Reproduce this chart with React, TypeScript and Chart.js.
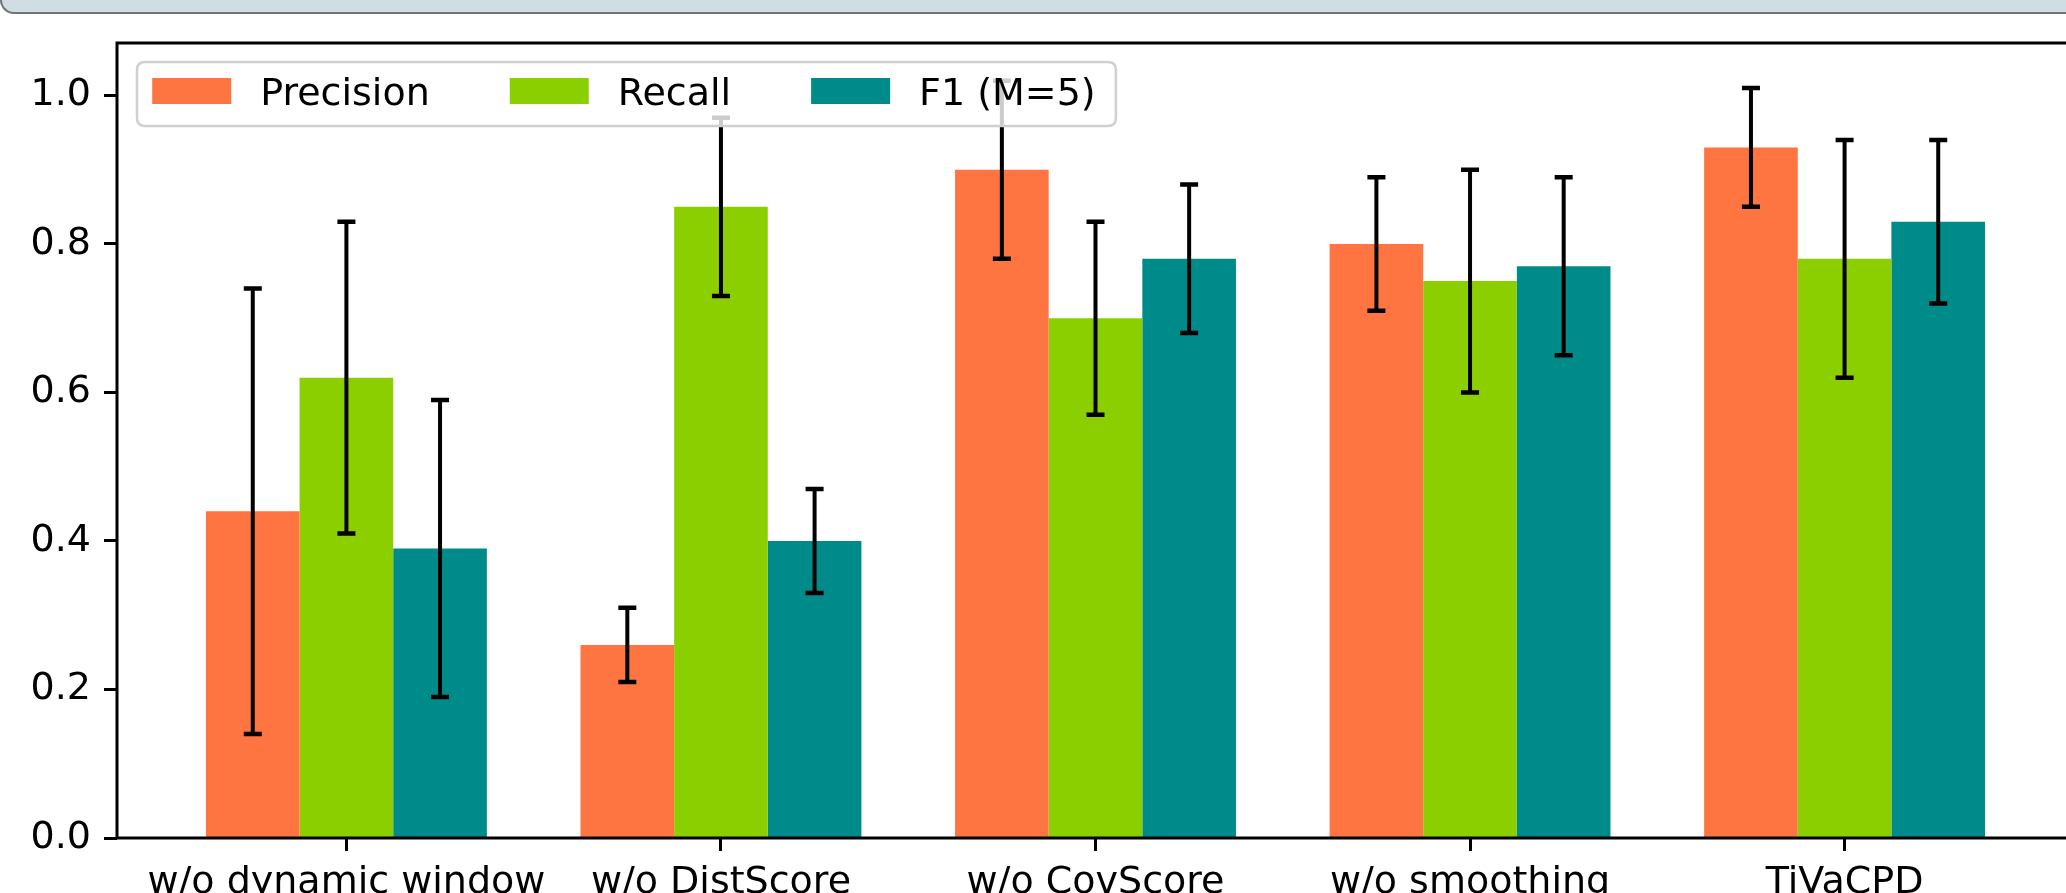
import React, { useEffect, useRef } from "react";
import { Chart, registerables } from "chart.js";

Chart.register(...registerables);

const categories = ["w/o dynamic window", "w/o DistScore", "w/o CovScore", "w/o smoothing", "TiVaCPD"];
const seriesLabels = ["Precision", "Recall", "F1 (M=5)"];
const precision = [0.44, 0.26, 0.9, 0.8, 0.93];
const precisionErr = [0.3, 0.05, 0.12, 0.09, 0.08];
const recall = [0.62, 0.85, 0.7, 0.75, 0.78];
const recallErr = [0.21, 0.12, 0.13, 0.15, 0.16];
const f1 = [0.39, 0.4, 0.78, 0.77, 0.83];
const f1Err = [0.2, 0.07, 0.1, 0.12, 0.11];
const yTicks = [0, 0.2, 0.4, 0.6, 0.8, 1.0];
const seriesColors = ["#ff7542", "#8ccf00", "#008b8b"];

const X_MIN = -0.6125;
const X_MAX = 4.6125;
const Y_MAX = 1.0707;

const FONT = "'DejaVu Sans', sans-serif";
const FS = 38;

const errorBarsAndFrame = {
  id: "errorBarsAndFrame",
  afterDatasetsDraw(chart: any) {
    const { ctx, chartArea: a } = chart;
    const ys = chart.scales.y;
    ctx.save();
    ctx.strokeStyle = "#000";
    chart.data.datasets.forEach((ds: any, d: number) => {
      const meta = chart.getDatasetMeta(d);
      meta.data.forEach((el: any, i: number) => {
        const v = ds.data[i].y;
        const e = ds.errors[i];
        const top = ys.getPixelForValue(v + e);
        const bot = ys.getPixelForValue(v - e);
        ctx.lineWidth = 4;
        ctx.lineCap = "butt";
        ctx.beginPath();
        ctx.moveTo(el.x, top);
        ctx.lineTo(el.x, bot);
        ctx.stroke();
        ctx.lineWidth = 4.5;
        ctx.beginPath();
        ctx.moveTo(el.x - 9, top);
        ctx.lineTo(el.x + 9, top);
        ctx.moveTo(el.x - 9, bot);
        ctx.lineTo(el.x + 9, bot);
        ctx.stroke();
      });
    });
    ctx.lineWidth = 3;
    ctx.lineCap = "square";
    ctx.beginPath();
    ctx.moveTo(a.left, a.bottom);
    ctx.lineTo(a.left, a.top);
    ctx.lineTo(a.right, a.top);
    ctx.moveTo(a.left, a.bottom);
    ctx.lineTo(a.right, a.bottom);
    ctx.stroke();
    ctx.restore();
  },
};

const innerLegend = {
  id: "innerLegend",
  afterDraw(chart: any) {
    const { ctx, chartArea: a } = chart;
    ctx.save();
    ctx.font = `${FS}px ${FONT}`;
    const pad = 0.4 * FS;
    const handleW = 79;
    const handleH = 26;
    const textPad = 29;
    const colSp = 80;
    const bx = a.left + 20;
    const by = a.top + 19;
    const items = chart.data.datasets.map((ds: any) => ({
      label: ds.label,
      color: ds.backgroundColor,
      w: ctx.measureText(ds.label).width,
    }));
    const w =
      pad * 2 +
      5 +
      items.reduce((s: number, it: any) => s + handleW + textPad + it.w, 0) +
      colSp * (items.length - 1);
    const h = 64;
    const r = 8;
    ctx.beginPath();
    ctx.moveTo(bx + r, by);
    ctx.lineTo(bx + w - r, by);
    ctx.quadraticCurveTo(bx + w, by, bx + w, by + r);
    ctx.lineTo(bx + w, by + h - r);
    ctx.quadraticCurveTo(bx + w, by + h, bx + w - r, by + h);
    ctx.lineTo(bx + r, by + h);
    ctx.quadraticCurveTo(bx, by + h, bx, by + h - r);
    ctx.lineTo(bx, by + r);
    ctx.quadraticCurveTo(bx, by, bx + r, by);
    ctx.closePath();
    ctx.fillStyle = "rgba(255,255,255,0.8)";
    ctx.fill();
    ctx.strokeStyle = "#d0d0d0";
    ctx.lineWidth = 2.5;
    ctx.stroke();
    let x = bx + pad;
    const cy = by + 29;
    items.forEach((it: any) => {
      ctx.fillStyle = it.color;
      ctx.fillRect(x, cy - handleH / 2, handleW, handleH);
      ctx.fillStyle = "#000";
      ctx.textBaseline = "alphabetic";
      ctx.textAlign = "left";
      ctx.fillText(it.label, x + handleW + textPad, cy + (0.729 * FS) / 2);
      x += handleW + textPad + it.w + colSp;
    });
    ctx.restore();
  },
};

export default function App() {
  const ref = useRef<HTMLCanvasElement | null>(null);

  useEffect(() => {
    if (!ref.current) return;
    const seriesValues = [precision, recall, f1];
    const seriesErrors = [precisionErr, recallErr, f1Err];
    const tickGrid = {
      display: true,
      offset: false,
      drawOnChartArea: false,
      drawTicks: true,
      tickLength: 13,
      tickWidth: 3,
      tickColor: "#000",
    };
    const chart = new Chart(ref.current, {
      type: "bar",
      data: {
        datasets: seriesLabels.map((label, s) => ({
          label,
          data: seriesValues[s].map((y, i) => ({ x: i, y })),
          errors: seriesErrors[s],
          backgroundColor: seriesColors[s],
          borderWidth: 0,
          barPercentage: 1,
          categoryPercentage: 0.75,
        })) as any,
      },
      options: {
        animation: false,
        responsive: false,
        devicePixelRatio: 1,
        layout: { padding: { top: 43, right: 26, left: 0, bottom: 0 } },
        plugins: { legend: { display: false }, tooltip: { enabled: false } },
        scales: {
          x: {
            type: "linear",
            min: X_MIN,
            max: X_MAX,
            bounds: "data",
            offset: false,
            afterBuildTicks: (s: any) => {
              s.ticks = categories.map((_, i) => ({ value: i }));
            },
            afterFit: (s: any) => {
              s.height = 55;
            },
            ticks: {
              callback: (v: any) => categories[Math.round(Number(v))] ?? "",
              font: { family: FONT, size: FS },
              color: "#000",
              padding: 9,
              maxRotation: 0,
              autoSkip: false,
            },
            grid: tickGrid,
            border: { display: false },
          },
          y: {
            min: 0,
            max: Y_MAX,
            bounds: "data",
            afterBuildTicks: (s: any) => {
              s.ticks = yTicks.map((v) => ({ value: v }));
            },
            afterFit: (s: any) => {
              s.width = 117;
            },
            ticks: {
              callback: (v: any) => Number(v).toFixed(1),
              font: { family: FONT, size: FS },
              color: "#000",
              padding: 13,
            },
            grid: tickGrid,
            border: { display: false },
          },
        },
      } as any,
      plugins: [errorBarsAndFrame, innerLegend],
    });
    return () => chart.destroy();
  }, []);

  return (
    <div
      style={{
        position: "fixed",
        left: 0,
        top: 0,
        width: 2066,
        height: 893,
        overflow: "hidden",
        background: "#fff",
      }}
    >
      <canvas
        ref={ref}
        width={2100}
        height={893}
        style={{ position: "absolute", left: 0, top: 0, width: 2100, height: 893 }}
      />
      <div
        style={{
          position: "absolute",
          left: 0,
          top: -10,
          width: 2200,
          height: 24,
          boxSizing: "border-box",
          background: "#d0dde3",
          borderLeft: "2px solid #6f7477",
          borderBottom: "2px solid #6f7477",
          borderBottomLeftRadius: 14,
        }}
      />
    </div>
  );
}
